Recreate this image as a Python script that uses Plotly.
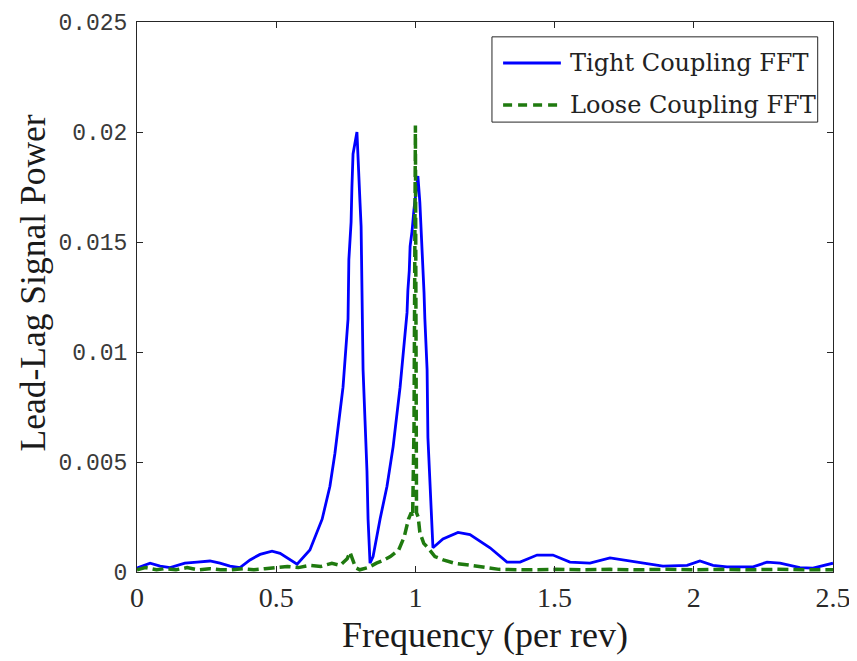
import plotly.graph_objects as go

# ---- data ----
tight_freq = [0.0, 0.004, 0.047, 0.083, 0.119, 0.172, 0.216, 0.262, 0.298, 0.334, 0.37, 0.406,
              0.442, 0.485, 0.514, 0.575, 0.621, 0.665, 0.693, 0.711, 0.740, 0.758, 0.761, 0.769,
              0.772, 0.776, 0.790, 0.794, 0.801, 0.805, 0.808, 0.812, 0.819, 0.826, 0.830, 0.835,
              0.837, 0.848, 0.873, 0.898, 0.920, 0.945, 0.963, 0.970, 0.973, 0.978, 0.981, 0.988,
              0.995, 1.009, 1.016, 1.024, 1.027, 1.031, 1.034, 1.042, 1.045, 1.052, 1.060, 1.063,
              1.099, 1.153, 1.196, 1.268, 1.329, 1.376, 1.437, 1.494, 1.555, 1.627, 1.699, 1.771,
              1.832, 1.889, 1.976, 2.022, 2.069, 2.119, 2.213, 2.263, 2.31, 2.381, 2.428, 2.5]
tight_power = [0.0001, 0.0002, 0.0004, 0.00027, 0.0002, 0.0004, 0.00045, 0.0005, 0.0004, 0.00027,
               0.0002, 0.00055, 0.0008, 0.00095, 0.00085, 0.00036, 0.001, 0.0024, 0.0039, 0.0054,
               0.0084, 0.0115, 0.0142, 0.0159, 0.0175, 0.019, 0.02, 0.0186, 0.0168, 0.0157, 0.0115,
               0.0092, 0.0069, 0.0046, 0.0024, 0.001, 0.0004, 0.0007, 0.0024, 0.0039, 0.0057,
               0.0084, 0.0107, 0.0118, 0.0128, 0.0137, 0.0148, 0.0155, 0.0165, 0.018, 0.0168,
               0.0148, 0.0137, 0.0127, 0.0115, 0.0092, 0.0061, 0.0039, 0.002, 0.0011, 0.0015,
               0.0018, 0.0017, 0.0011, 0.00045, 0.00045, 0.00077, 0.00077, 0.00045, 0.0004,
               0.00064, 0.0005, 0.0004, 0.00027, 0.0003, 0.0005, 0.0003, 0.00023, 0.00023,
               0.00045, 0.0004, 0.0002, 0.00018, 0.0004]

loose_freq = [0.0, 0.03, 0.07, 0.1, 0.14, 0.18, 0.22, 0.26, 0.3, 0.34, 0.38, 0.42, 0.46, 0.5,
              0.54, 0.58, 0.62, 0.66, 0.7, 0.73, 0.755, 0.765, 0.775, 0.785, 0.8, 0.83, 0.86,
              0.88, 0.91, 0.94, 0.96, 0.975, 0.985, 0.99, 0.995, 1.0, 1.004, 1.01, 1.016, 1.03,
              1.045, 1.07, 1.1, 1.14, 1.2, 1.25, 1.3, 1.4, 1.5, 1.6, 1.7, 1.8, 1.9, 2.0, 2.1,
              2.2, 2.3, 2.4, 2.5]
loose_power = [0.0001, 0.0002, 0.0001, 0.00015, 0.0001, 0.0002, 0.0001, 0.00015, 0.0001, 0.0001,
               0.00015, 0.0001, 0.00015, 0.0002, 0.00025, 0.0002, 0.0003, 0.00025, 0.0004, 0.0003,
               0.0006, 0.0009, 0.0006, 0.0002, 0.0001, 0.0002, 0.0004, 0.0005, 0.0007, 0.001,
               0.0016, 0.0024, 0.0027, 0.0025, 0.0066, 0.0203, 0.0027, 0.0025, 0.0018, 0.0013,
               0.0011, 0.0007, 0.00055, 0.0004, 0.0003, 0.0002, 0.00012, 0.0001, 0.00012, 0.0001,
               0.00012, 0.0001, 0.00012, 0.0001, 0.00012, 0.0001, 0.00012, 0.0001, 0.0001]

x_ticks = [0, 0.5, 1, 1.5, 2, 2.5]
x_tick_labels = ["0", "0.5", "1", "1.5", "2", "2.5"]
y_ticks = [0, 0.005, 0.01, 0.015, 0.02, 0.025]
y_tick_labels = ["0", "0.005", "0.01", "0.015", "0.02", "0.025"]
series_names = ["Tight Coupling FFT", "Loose Coupling FFT"]
x_title = "Frequency (per rev)"
y_title = "Lead-Lag Signal Power"

BLUE = "#0000ff"
GREEN = "#1f7a0f"
SERIF = "Liberation Serif, Times New Roman, serif"

fig = go.Figure()
fig.add_trace(go.Scatter(x=tight_freq, y=tight_power, mode="lines", name=series_names[0],
                         line=dict(color=BLUE, width=2.8)))
fig.add_trace(go.Scatter(x=loose_freq, y=loose_power, mode="lines", name=series_names[1],
                         line=dict(color=GREEN, width=3.5, dash="11px,5px")))

axis_common = dict(showline=True, linecolor="#262626", linewidth=1, mirror="ticks",
                   ticks="inside", ticklen=6, tickcolor="#262626", showgrid=False,
                   zeroline=False, automargin=False)

fig.update_xaxes(range=[0, 2.5], tickvals=x_ticks, ticktext=x_tick_labels,
                 tickfont=dict(family=SERIF, size=28, color="#2a2a2a"),
                 title=dict(text=x_title, font=dict(family=SERIF, size=36, color="#1a1a1a"),
                            standoff=10),
                 **axis_common)
fig.update_yaxes(range=[0, 0.025], tickvals=y_ticks, ticktext=y_tick_labels,
                 tickfont=dict(family="Liberation Mono, Courier New, monospace", size=23, color="#3a3a3a"),
                 ticklabelstandoff=4,
                 **axis_common)

# y-axis title (placed slightly above the axis centre, as in the reference)
fig.add_annotation(xref="paper", yref="paper", x=-0.149, y=0.525, xanchor="center", yanchor="middle",
                   text=y_title, textangle=-90, showarrow=False,
                   font=dict(family=SERIF, size=35.5, color="#1a1a1a"))

# ---- legend drawn in paper coordinates ----
fig.add_shape(type="rect", xref="paper", yref="paper", x0=0.510, x1=0.978, y0=0.818, y1=0.973,
              line=dict(color="#262626", width=1), fillcolor="white", layer="above")
legend_rows = [(0.9255, BLUE, "solid", 2.8), (0.849, GREEN, "9px,6px", 3.5)]
for (yy, col, dsh, w), name in zip(legend_rows, series_names):
    fig.add_shape(type="line", xref="paper", yref="paper", x0=0.526, x1=0.609, y0=yy, y1=yy,
                  line=dict(color=col, width=w, dash=dsh), layer="above")
    fig.add_annotation(xref="paper", yref="paper", x=0.619, y=yy, xanchor="left", yanchor="middle",
                       text=name, showarrow=False,
                       font=dict(family="DejaVu Serif, serif", size=24, color="#222222"))

# the page body adds an 8px offset, so the figure is 8px smaller and margins shifted accordingly
fig.update_layout(width=849, height=653, showlegend=False,
                  margin=dict(l=129, r=24, t=14, b=89),
                  plot_bgcolor="white", paper_bgcolor="white")

fig.write_html("out.html")
